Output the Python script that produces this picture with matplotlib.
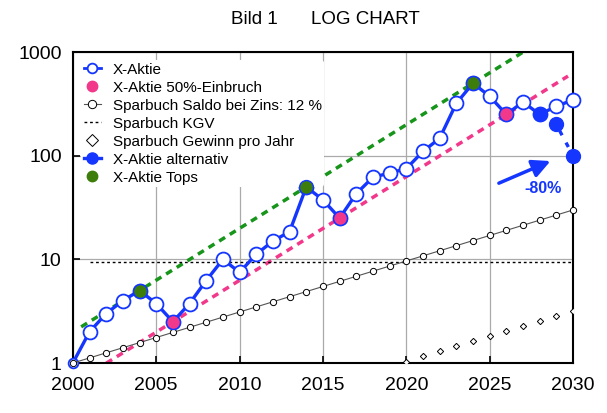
import matplotlib
matplotlib.use("Agg")
import matplotlib.pyplot as plt
from matplotlib.lines import Line2D

plt.rcParams['font.family'] = ['Liberation Sans', 'DejaVu Sans']

# Werte
jahre = list(range(2000, 2031))
x_aktie = [1, 2, 3, 4, 5, 3.75, 2.5, 3.75, 6.25, 10, 7.5, 11.2, 15, 18.5, 50,
           37.5, 25, 43, 62, 68, 75, 110, 147, 320, 500, 375, 250, 330, 250, 300, 345]
einbruch_jahre = [2006, 2016, 2026]
einbruch_werte = [2.5, 25, 250]
tops_jahre = [2004, 2014, 2024]
tops_werte = [5, 50, 500]
alt_jahre = [2028, 2029, 2030]
alt_werte = [250, 200, 100]

zins = 0.12
saldo = [(1 + zins) ** (j - 2000) for j in jahre]
kgv_jahre = [2001, 2030]
kgv_werte = [(1 + zins) / zins] * 2
gewinn_jahre = jahre[1:]
gewinn = [saldo[i] - saldo[i - 1] for i in range(1, len(saldo))]

# Trendlinien (Endpunkte)
tops_linie_x = [2000.5, 2027]
tops_linie_y = [5 * 10 ** ((x - 2004) / 10) for x in tops_linie_x]
einbr_linie_x = [2002, 2029.7]
einbr_linie_y = [2.5 * 10 ** ((x - 2006) / 10) for x in einbr_linie_x]

blau = '#1436ff'
pink = '#f2388a'
gruen = '#3c7d0c'

fig = plt.figure(figsize=(6.07, 4.13), dpi=100)
ax = fig.add_axes([0.120, 0.121, 0.824, 0.753])

ax.plot(tops_linie_x, tops_linie_y, color='#17941a', lw=2.5, ls=(0, (2, 1.6)), zorder=2)
ax.plot(einbr_linie_x, einbr_linie_y, color=pink, lw=2.5, ls=(0, (2, 1.6)), zorder=2)

ax.plot(kgv_jahre, kgv_werte, color='black', lw=1.0, ls=(0, (2, 2)), zorder=2)
ax.plot(gewinn_jahre, gewinn, ls='none', marker='D', ms=3.2, mfc='white',
        mec='black', mew=0.7, zorder=3)

ax.plot(jahre, x_aktie, color=blau, lw=2.4, marker='o', ms=10, mfc='white',
        mec=blau, mew=1.3, markevery=list(range(1, len(jahre))), zorder=4, clip_on=False)
ax.plot(jahre[:1], x_aktie[:1], ls='none', marker='o', ms=7, mfc='white',
        mec=blau, mew=1.3, zorder=4, clip_on=False)
ax.plot(jahre, saldo, color='#555555', lw=0.8, marker='o', ms=4.5, mfc='white',
        mec='black', mew=0.7, zorder=4.5, clip_on=False)
ax.plot(alt_jahre, alt_werte, color=blau, lw=2.4, ls=(0, (1.5, 2.5)), marker='o',
        ms=10, mfc=blau, mec=blau, zorder=5, clip_on=False)
ax.plot(einbruch_jahre, einbruch_werte, ls='none', marker='o', ms=10, mfc=pink,
        mec=blau, mew=1.0, zorder=12)
ax.plot(tops_jahre, tops_werte, ls='none', marker='o', ms=10, mfc=gruen,
        mec=blau, mew=1.0, zorder=12)

ax.annotate('', xy=(2028.8, 91), xytext=(2025.4, 53),
            arrowprops=dict(arrowstyle='-|>,head_length=0.9,head_width=0.45',
                            mutation_scale=12, color=blau, lw=2.5))
ax.text(2028.2, 48, '-80%', color=blau, fontsize=11.5, fontweight='bold',
        ha='center', va='center')

ax.set_yscale('log')
ax.set_xlim(2000, 2030)
ax.set_ylim(1, 1000)
ax.set_xticks(range(2000, 2031, 5))
ax.set_yticks([1, 10, 100, 1000])
ax.set_yticklabels(['1', '10', '100', '1000'])
ax.minorticks_off()
ax.tick_params(direction='in', length=5, width=1.2, labelsize=14)
ax.tick_params(axis='x', pad=10)
ax.tick_params(axis='y', pad=8)
ax.grid(True, color='#aaaaaa', lw=0.9)
ax.set_axisbelow(True)
for s in ax.spines.values():
    s.set_linewidth(1.5)

# Legende mit eigenen Symbolen
handles = [
    Line2D([], [], color=blau, lw=2, marker='o', ms=7, mfc='white', mec=blau, mew=1.3),
    Line2D([], [], ls='none', marker='o', ms=7.5, mfc=pink, mec=pink),
    Line2D([], [], color='#555555', lw=0.8, marker='o', ms=6, mfc='white', mec='black', mew=0.7),
    Line2D([], [], color='black', lw=1.0, ls=(0, (2, 2))),
    Line2D([], [], ls='none', marker='D', ms=6.5, mfc='white', mec='black', mew=0.7),
    Line2D([], [], color=blau, lw=2.4, marker='o', ms=8, mfc=blau, mec=blau),
    Line2D([], [], ls='none', marker='o', ms=7.5, mfc=gruen, mec=gruen),
]
labels = ['X-Aktie', 'X-Aktie 50%-Einbruch', 'Sparbuch Saldo bei Zins: 12 %',
          'Sparbuch KGV', 'Sparbuch Gewinn pro Jahr', 'X-Aktie alternativ', 'X-Aktie Tops']
leg = ax.legend(handles, labels, loc='upper left', fontsize=11,
                frameon=True, facecolor='white', edgecolor='none', framealpha=1,
                handlelength=1.15, handletextpad=0.75, labelspacing=0.26,
                borderaxespad=0.55, borderpad=0.15)
leg.set_zorder(10)

fig.text(0.419, 0.952, 'Bild 1', fontsize=13.5, ha='center', va='center')
fig.text(0.602, 0.952, 'LOG CHART', fontsize=13.5, ha='center', va='center')

fig.savefig('out.png', dpi=100)
